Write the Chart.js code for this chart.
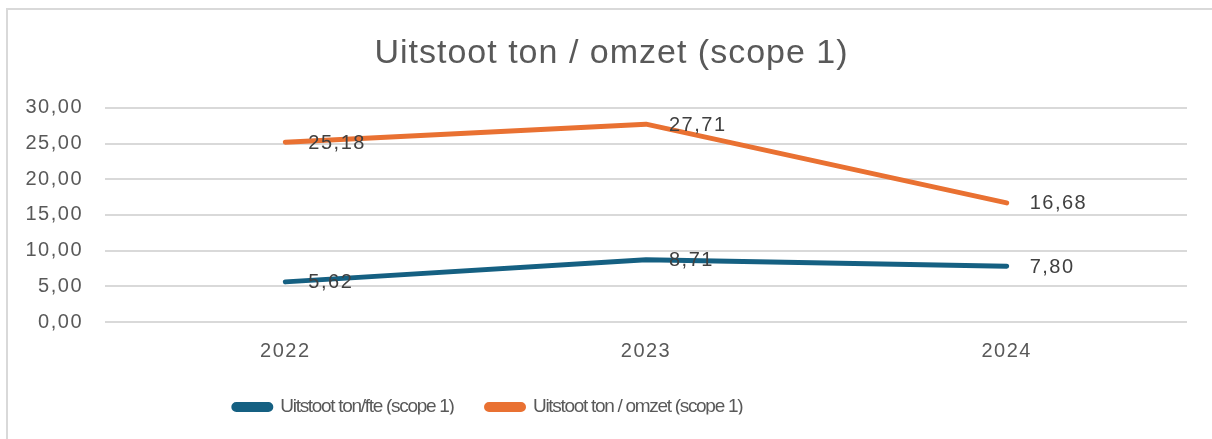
<!DOCTYPE html>
<html>
<head>
<meta charset="utf-8">
<script src="https://cdn.jsdelivr.net/npm/chart.js@4"></script>
<style>
html,body{margin:0;padding:0;background:#fff;}
#wrap{position:absolute;left:0;top:0;width:1212px;height:439px;}
</style>
</head>
<body>
<div id="wrap"><canvas id="c" width="1212" height="439"></canvas></div>
<script>
const categories = ['2022', '2023', '2024'];
const fteValues = [5.62, 8.71, 7.80];
const omzetValues = [25.18, 27.71, 16.68];
const seriesNames = ['Uitstoot ton/fte (scope 1)', 'Uitstoot ton / omzet (scope 1)'];
const chartTitle = 'Uitstoot ton / omzet (scope 1)';

const fmt = v => v.toFixed(2).replace('.', ',');
const FONT = '"Liberation Sans", Arial, sans-serif';
const LEGEND_CENTER_X = 488;
const LEGEND_CENTER_Y = 407;
const LEGEND_HEIGHT = 50;
const LEGEND_SPACING = '-1.3px';
const TITLE_SHIFT_X = 18;
const BASE_SPACING = '1.5px';

const spacingPlugin = {
  id: 'spacing',
  afterInit(chart) {
    const lg = chart.legend;
    if (lg) {
      const origFit = lg.fit.bind(lg);
      const origDraw = lg.draw.bind(lg);
      lg.fit = function () {
        const ctx = chart.ctx;
        const prev = ctx.letterSpacing;
        ctx.letterSpacing = LEGEND_SPACING;
        origFit();
        ctx.letterSpacing = prev;
        lg.height = LEGEND_HEIGHT;
      };
      lg.draw = function () {
        const ctx = chart.ctx;
        const prev = ctx.letterSpacing;
        ctx.save();
        ctx.letterSpacing = LEGEND_SPACING;
        const hb = lg.legendHitBoxes || [];
        if (hb.length) {
          const left = hb[0].left;
          const last = hb[hb.length - 1];
          const right = last.left + last.width;
          const cy = hb[0].top + hb[0].height / 2;
          ctx.translate(LEGEND_CENTER_X - (left + right) / 2, LEGEND_CENTER_Y - cy);
        }
        origDraw();
        ctx.restore();
        ctx.letterSpacing = prev;
      };
    }
    const tb = chart.titleBlock;
    if (tb) {
      const origTDraw = tb.draw.bind(tb);
      tb.draw = function () {
        const ctx = chart.ctx;
        const prev = ctx.letterSpacing;
        ctx.save();
        ctx.letterSpacing = '1px';
        ctx.translate(TITLE_SHIFT_X, 0);
        origTDraw();
        ctx.restore();
        ctx.letterSpacing = prev;
      };
    }
  },
  beforeLayout(chart) { chart.ctx.letterSpacing = BASE_SPACING; },
  beforeDraw(chart) {
    const ctx = chart.ctx;
    ctx.letterSpacing = BASE_SPACING;
    ctx.save();
    ctx.fillStyle = '#fff';
    ctx.fillRect(0, 0, chart.width, chart.height);
    ctx.strokeStyle = '#d9d9d9';
    ctx.lineWidth = 2;
    ctx.strokeRect(7, 9, 1230, 460);
    ctx.restore();
  }
};

const labelPlugin = {
  id: 'valueLabels',
  afterDatasetsDraw(chart) {
    const ctx = chart.ctx;
    ctx.save();
    ctx.letterSpacing = BASE_SPACING;
    ctx.font = '20px ' + FONT;
    ctx.fillStyle = '#404040';
    ctx.textAlign = 'left';
    ctx.textBaseline = 'middle';
    chart.data.datasets.forEach((ds, i) => {
      const meta = chart.getDatasetMeta(i);
      meta.data.forEach((pt, j) => {
        ctx.fillText(fmt(ds.data[j]), pt.x + 23, pt.y + 1);
      });
    });
    ctx.restore();
  }
};

new Chart(document.getElementById('c'), {
  type: 'line',
  data: {
    labels: categories,
    datasets: [
      {
        label: seriesNames[0],
        data: fteValues,
        borderColor: '#156082',
        backgroundColor: '#156082',
        borderWidth: 5,
        borderCapStyle: 'round',
        borderJoinStyle: 'round',
        pointRadius: 0,
        tension: 0
      },
      {
        label: seriesNames[1],
        data: omzetValues,
        borderColor: '#E97132',
        backgroundColor: '#E97132',
        borderWidth: 5,
        borderCapStyle: 'round',
        borderJoinStyle: 'round',
        pointRadius: 0,
        tension: 0
      }
    ]
  },
  options: {
    responsive: false,
    animation: false,
    devicePixelRatio: 1,
    layout: { padding: { left: 0, right: 25, top: 0, bottom: 26 } },
    plugins: {
      title: {
        display: true,
        text: chartTitle,
        color: '#595959',
        font: { family: FONT, size: 34, weight: 'normal', lineHeight: 1.2 },
        padding: { top: 33, bottom: 34 }
      },
      legend: {
        position: 'bottom',
        labels: {
          color: '#595959',
          font: { family: FONT, size: 19 },
          boxWidth: 37,
          boxHeight: 5,
          useBorderRadius: true,
          borderRadius: 2.5,
          padding: 33
        }
      },
      tooltip: { enabled: false }
    },
    scales: {
      x: {
        offset: true,
        afterFit(scale) { scale.height = 41; },
        grid: { display: false, drawTicks: false },
        border: { display: false },
        ticks: {
          color: '#595959',
          font: { family: FONT, size: 20 },
          padding: 17
        }
      },
      y: {
        min: 0,
        max: 30,
        afterFit(scale) { scale.width = 105; },
        grid: { color: '#d9d9d9', lineWidth: 2, drawTicks: false },
        border: { display: false },
        ticks: {
          stepSize: 5,
          color: '#595959',
          font: { family: FONT, size: 20 },
          padding: 22,
          callback: v => fmt(v)
        }
      }
    }
  },
  plugins: [spacingPlugin, labelPlugin]
});
</script>
</body>
</html>
